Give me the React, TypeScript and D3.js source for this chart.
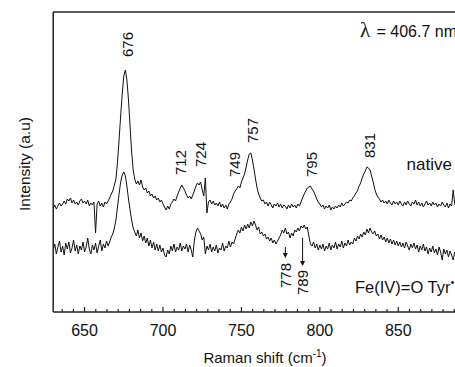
import React from "react";
import * as d3 from "d3";

// Raman shift grid start (cm-1), one sample per cm-1
const shiftStart = 630;

// native spectrum (a.u.), 630..890 cm-1
const nativeIntensity = [
  104,107,103,106,109,106,108,111,108,113,
  111,114,109,112,108,110,107,111,113,109,
  111,108,112,106,109,107,110,79,108,111,
  106,109,105,110,108,111,114,118,121,127,
  133,150,172,196,218,236,242,232,212,186,
  160,142,133,128,131,127,132,125,122,124,
  119,121,116,118,114,116,112,114,110,112,
  108,105,102,106,103,108,110,113,111,116,
  120,124,127,124,121,117,114,116,113,117,
  121,126,129,127,130,122,116,134,99,110,
  112,108,111,107,109,106,110,105,108,104,
  107,103,108,110,113,118,121,123,126,124,
  130,134,138,145,152,158,159,152,143,133,
  124,118,114,111,112,108,110,106,110,107,
  104,108,106,109,105,108,104,107,106,103,
  107,104,108,105,107,104,108,106,110,114,
  118,121,124,125,126,123,121,117,113,110,
  108,105,107,103,106,104,107,102,105,103,
  106,104,107,105,109,106,108,110,109,112,
  111,114,116,119,121,126,129,134,138,141,
  145,144,142,136,130,123,118,115,113,110,
  112,109,111,108,112,109,107,111,108,110,
  107,111,108,106,110,107,111,108,106,110,
  108,112,107,110,106,109,105,108,111,107,
  109,106,110,107,109,105,108,106,110,107,
  105,109,104,108,106,122,108,105,109,106,
  108,
];

// Fe(IV)=O Tyr• spectrum (a.u.), 630..890 cm-1
const ferrylIntensity = [
  62,68,58,65,71,60,66,57,69,63,
  70,59,64,72,61,67,58,66,62,70,
  60,65,74,63,58,67,62,69,59,66,
  72,61,68,64,71,66,70,75,78,84,
  92,105,118,130,137,140,136,126,113,102,
  92,84,80,76,82,74,79,71,76,69,
  74,66,72,64,70,62,68,61,67,60,
  64,57,55,62,58,66,61,68,60,65,
  62,69,61,66,63,68,60,67,62,55,
  72,80,84,81,78,72,75,58,66,62,
  68,60,65,61,67,59,64,62,69,61,
  66,64,71,65,70,68,73,78,82,79,
  85,81,87,83,88,84,90,86,91,87,
  82,85,78,80,76,78,73,75,71,74,
  69,72,68,71,74,77,82,79,84,78,
  80,74,79,76,82,80,84,81,86,84,
  87,83,85,76,68,66,70,64,68,62,
  67,63,68,61,66,63,69,62,67,64,
  70,63,68,65,71,64,69,66,72,67,
  70,68,74,71,76,73,78,75,80,77,
  83,79,84,80,78,81,76,78,73,77,
  72,75,70,74,69,73,68,72,67,71,
  66,70,65,69,64,70,66,62,68,64,
  69,63,67,60,66,62,68,61,65,58,
  64,60,66,59,63,57,65,60,52,63,
  58,62,55,61,57,52,60,56,62,55,
  59,
];

const majorTicks = [650, 700, 750, 800, 850, 900];
const tickLabels = ["650", "700", "750", "800", "850"];
const peakValues = [676, 712, 724, 749, 757, 795, 831];
const arrowValues = [778, 789];

// layout for labels (pixel offsets)
const peakLabelDx = [2.6, -1.3, 0, -5, 0, 0, 1.5];
const peakLabelBottom = [57, 175, 167, 177, 143, 177, 158];
const arrowTop = [247, 238];
const arrowTip = [258, 266];
const arrowLabelBottom = [288, 295];

const W = 455;
const H = 367;
const left = 53.2;
const top = 12;
const bottom = 312;
const pxPerUnit = 1.5685;

export default function App() {
  const x = d3
    .scaleLinear()
    .domain([630, 900])
    .range([left, left + 270 * pxPerUnit]);
  const y = d3.scaleLinear().domain([0, 300]).range([bottom, top]);

  const shifts = d3.range(nativeIntensity.length).map((i) => shiftStart + i);
  const line = d3
    .line<number>()
    .x((_, i) => x(shifts[i]))
    .y((d) => y(d));

  const minorTicks: number[] = [];
  for (let k = 0; k < majorTicks.length - 1; k++) {
    for (let j = 1; j < 7; j++) minorTicks.push(majorTicks[k] + (j * 50) / 7);
  }
  minorTicks.push(650 - 50 / 7, 650 - 100 / 7);

  const font = "'Liberation Sans', Arial, sans-serif";
  const xr = x.range()[1];

  return (
    <svg
      width={W}
      height={H}
      style={{ position: "absolute", left: 0, top: 0, background: "#fff" }}
      fontFamily={font}
    >
      <defs>
        <clipPath id="plot">
          <rect x={left} y={top} width={xr - left} height={bottom - top} />
        </clipPath>
      </defs>
      <rect x={0} y={0} width={W} height={H} fill="#fff" />

      <g clipPath="url(#plot)" fill="none" stroke="#111" strokeWidth={1} strokeLinejoin="round">
        <path d={line(nativeIntensity) || ""} />
        <path d={line(ferrylIntensity) || ""} />
      </g>

      {/* frame */}
      <g stroke="#222" strokeWidth={1.5} fill="none">
        <line x1={left} x2={left} y1={top} y2={bottom} />
        <line x1={left} x2={xr} y1={top} y2={top} />
        <line x1={left} x2={xr} y1={bottom} y2={bottom} />
      </g>

      {/* ticks */}
      <g stroke="#222" strokeWidth={1.2}>
        {majorTicks.map((t) => (
          <line key={"M" + t} x1={x(t)} x2={x(t)} y1={bottom} y2={bottom - 5} />
        ))}
        {minorTicks.map((t) => (
          <line key={"m" + t} x1={x(t)} x2={x(t)} y1={bottom} y2={bottom - 3} />
        ))}
      </g>
      <g fontSize={16} textAnchor="middle" fill="#111">
        {tickLabels.map((t) => (
          <text key={"L" + t} x={x(+t)} y={335.5}>
            {t}
          </text>
        ))}
      </g>

      {/* axis titles */}
      <text x={265} y={363} fontSize={15} textAnchor="middle" fill="#111">
        Raman shift (cm
        <tspan fontSize={10} dy={-6}>-1</tspan>
        <tspan dy={6}>)</tspan>
      </text>
      <text
        transform="translate(30,164) rotate(-90)"
        fontSize={15.5}
        textAnchor="middle"
        fill="#111"
      >
        Intensity (a.u)
      </text>

      {/* peak labels */}
      <g fontSize={15} fill="#111">
        {peakValues.map((p, i) => (
          <text
            key={"p" + p}
            transform={`translate(${x(p) + peakLabelDx[i]},${peakLabelBottom[i]}) rotate(-90)`}
            dy="0.35em"
          >
            {p}
          </text>
        ))}
      </g>

      {/* arrows */}
      {arrowValues.map((a, i) => {
        const ax = x(a);
        return (
          <g key={"a" + a}>
            <line x1={ax} x2={ax} y1={arrowTop[i]} y2={arrowTip[i] - 4} stroke="#111" strokeWidth={1} />
            <path
              d={`M${ax - 2.5},${arrowTip[i] - 5} L${ax + 2.5},${arrowTip[i] - 5} L${ax},${arrowTip[i]} Z`}
              fill="#111"
            />
            <text
              transform={`translate(${ax},${arrowLabelBottom[i]}) rotate(-90)`}
              dy="0.35em"
              fontSize={15}
              fill="#111"
            >
              {a}
            </text>
          </g>
        );
      })}

      {/* annotations */}
      <text x={360} y={36.5} fontSize={21} fontFamily="'Liberation Serif', serif" fill="#111">
        λ
      </text>
      <text x={376.5} y={36.5} fontSize={16} fill="#111">
        = 406.7 nm
      </text>
      <text x={406.5} y={170} fontSize={17} fill="#111">
        native
      </text>
      <text x={355} y={293} fontSize={16.5} fill="#111">
        Fe(IV)=O Tyr
        <tspan fontSize={11} dy={-7}>•</tspan>
      </text>
    </svg>
  );
}
